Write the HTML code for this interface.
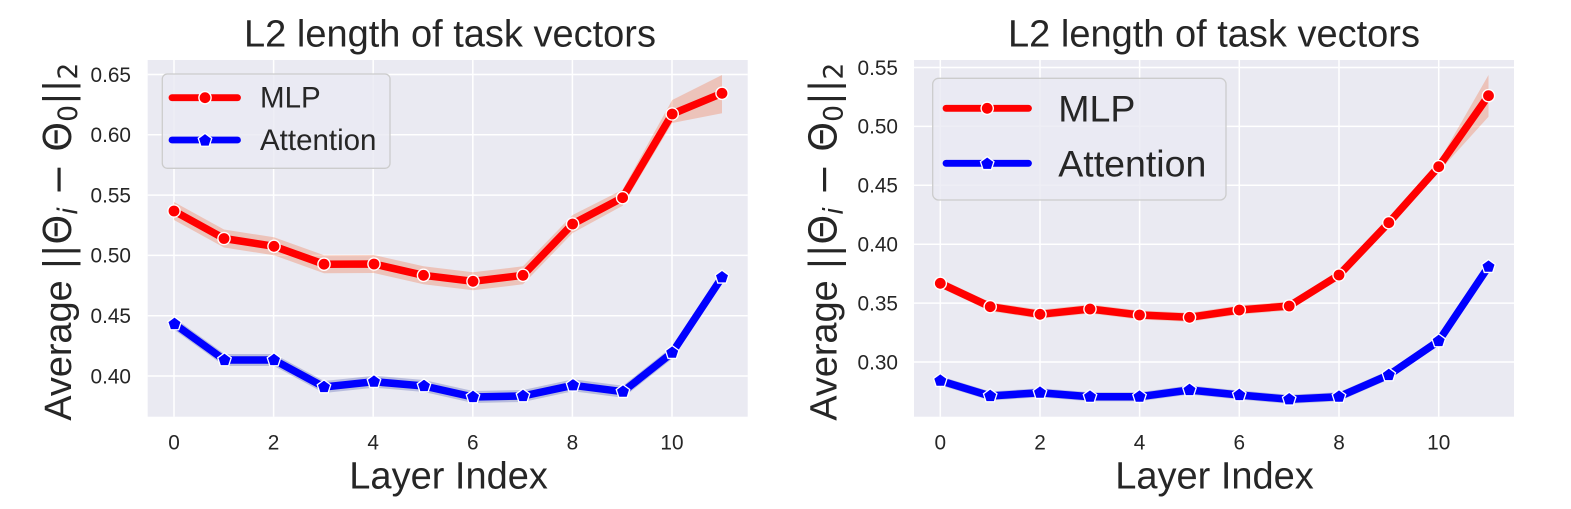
<!DOCTYPE html>
<html><head><meta charset="utf-8"><style>
html,body{margin:0;padding:0;background:#fff;}
svg{display:block;}
text{fill:#262626;font-family:"Liberation Sans",Arial,sans-serif;}
.tk{font-size:20.8px;}
.ttl{font-size:38px;}
.lab{font-size:38px;}
.m{font-family:"DejaVu Sans",sans-serif;}
</style></head><body>
<svg width="1571" height="509" viewBox="0 0 1571 509" xmlns="http://www.w3.org/2000/svg">
<defs>
<polygon id="pent" points="0,-7.1 6.75,-2.2 4.17,5.74 -4.17,5.74 -6.75,-2.2" fill="#0000ff" stroke="#ffffff" stroke-width="1.3" stroke-linejoin="miter"/>
<circle id="circ" r="6.1" fill="#ff0000" stroke="#ffffff" stroke-width="1.4"/>
</defs>
<rect width="1571" height="509" fill="#ffffff"/>

<!-- LEFT AXES -->
<rect x="147.7" y="60" width="600" height="356.7" fill="#eaeaf2"/>
<g stroke="#ffffff" stroke-width="1.5">
<line x1="174" y1="60" x2="174" y2="416.7"/>
<line x1="273.6" y1="60" x2="273.6" y2="416.7"/>
<line x1="373.2" y1="60" x2="373.2" y2="416.7"/>
<line x1="472.8" y1="60" x2="472.8" y2="416.7"/>
<line x1="572.4" y1="60" x2="572.4" y2="416.7"/>
<line x1="672" y1="60" x2="672" y2="416.7"/>
<line x1="147.7" y1="376" x2="747.7" y2="376"/>
<line x1="147.7" y1="315.7" x2="747.7" y2="315.7"/>
<line x1="147.7" y1="255.4" x2="747.7" y2="255.4"/>
<line x1="147.7" y1="195.1" x2="747.7" y2="195.1"/>
<line x1="147.7" y1="134.8" x2="747.7" y2="134.8"/>
<line x1="147.7" y1="74.5" x2="747.7" y2="74.5"/>
</g>
<polygon fill="rgba(241,107,55,0.3)" points="174,202 224,229.5 274,237.3 324,255.2 374,255 423.5,266.3 473,272.3 523,266.3 572.6,215 622.6,189.7 672.2,100 722,75 722,113.3 672.2,123 622.6,205.7 572.6,233 523,284.3 473,290.3 423.5,284.3 374,273 324,273.2 274,255.3 224,247.5 174,220"/>
<polygon fill="rgba(71,84,172,0.3)" points="174.5,318 224.5,354 274,354 324,381 374,375.7 424,380 473,391 523,390 573,379.3 623,385.7 672.2,346.7 722,271.3 722,283.3 672.2,358.7 623,397.7 573,391.3 523,402 473,403 424,392 374,387.7 324,393 274,366 224.5,366 174.5,330"/>
<polyline fill="none" stroke="#ff0000" stroke-width="7.5" stroke-linejoin="round" stroke-linecap="round" points="174,211 224,238.5 274,246.3 324,264.2 374,264 423.5,275.3 473,281.3 523,275.3 572.6,224 622.6,197.7 672.2,114 722,93.3"/>
<polyline fill="none" stroke="#0000ff" stroke-width="7.5" stroke-linejoin="round" stroke-linecap="round" points="174.5,324 224.5,360 274,360 324,387 374,381.7 424,386 473,397 523,396 573,385.3 623,391.7 672.2,352.7 722,277.3"/>
<g>
<use href="#circ" x="174" y="211"/><use href="#circ" x="224" y="238.5"/><use href="#circ" x="274" y="246.3"/><use href="#circ" x="324" y="264.2"/><use href="#circ" x="374" y="264"/><use href="#circ" x="423.5" y="275.3"/><use href="#circ" x="473" y="281.3"/><use href="#circ" x="523" y="275.3"/><use href="#circ" x="572.6" y="224"/><use href="#circ" x="622.6" y="197.7"/><use href="#circ" x="672.2" y="114"/><use href="#circ" x="722" y="93.3"/>
<use href="#pent" x="174.5" y="324"/><use href="#pent" x="224.5" y="360"/><use href="#pent" x="274" y="360"/><use href="#pent" x="324" y="387"/><use href="#pent" x="374" y="381.7"/><use href="#pent" x="424" y="386"/><use href="#pent" x="473" y="397"/><use href="#pent" x="523" y="396"/><use href="#pent" x="573" y="385.3"/><use href="#pent" x="623" y="391.7"/><use href="#pent" x="672.2" y="352.7"/><use href="#pent" x="722" y="277.3"/>
</g>
<!-- left legend -->
<rect x="162.3" y="74" width="227.7" height="94.3" rx="5" ry="5" fill="rgba(234,234,242,0.8)" stroke="#cccccc" stroke-width="1.3"/>
<line x1="172" y1="97.7" x2="237.5" y2="97.7" stroke="#ff0000" stroke-width="6.8" stroke-linecap="round"/>
<use href="#circ" x="205" y="97.7"/>
<line x1="172" y1="140" x2="237.5" y2="140" stroke="#0000ff" stroke-width="6.8" stroke-linecap="round"/>
<use href="#pent" x="205" y="140.5"/>
<text x="260" y="107.5" style="font-size:29.5px">MLP</text>
<text x="260" y="150" style="font-size:29.5px">Attention</text>
<!-- left ticks -->
<g class="tk" text-anchor="end">
<text x="131" y="383.3">0.40</text>
<text x="131" y="323">0.45</text>
<text x="131" y="262.7">0.50</text>
<text x="131" y="202.4">0.55</text>
<text x="131" y="142.1">0.60</text>
<text x="131" y="81.8">0.65</text>
</g>
<g class="tk" text-anchor="middle">
<text x="174" y="449.3">0</text>
<text x="273.6" y="449.3">2</text>
<text x="373.2" y="449.3">4</text>
<text x="472.8" y="449.3">6</text>
<text x="572.4" y="449.3">8</text>
<text x="672" y="449.3">10</text>
</g>
<text class="ttl" x="450" y="46.5" text-anchor="middle">L2 length of task vectors</text>
<text class="lab" x="448.6" y="488.3" text-anchor="middle">Layer Index</text>
<text class="lab" transform="translate(71,241.7) rotate(-90)" text-anchor="middle" textLength="358" lengthAdjust="spacing">Average <tspan class="m">||Θ</tspan><tspan class="m" font-style="italic" font-size="26.6" dy="6">i</tspan><tspan class="m" dy="-6"> − Θ</tspan><tspan class="m" font-size="26.6" dy="6">0</tspan><tspan class="m" dy="-6">||</tspan><tspan class="m" font-size="26.6" dy="6">2</tspan></text>

<!-- RIGHT AXES -->
<rect x="914" y="60" width="600" height="356.7" fill="#eaeaf2"/>
<g stroke="#ffffff" stroke-width="1.5">
<line x1="940.3" y1="60" x2="940.3" y2="416.7"/>
<line x1="1040" y1="60" x2="1040" y2="416.7"/>
<line x1="1139.6" y1="60" x2="1139.6" y2="416.7"/>
<line x1="1239.3" y1="60" x2="1239.3" y2="416.7"/>
<line x1="1339" y1="60" x2="1339" y2="416.7"/>
<line x1="1438.7" y1="60" x2="1438.7" y2="416.7"/>
<line x1="914" y1="362" x2="1514" y2="362"/>
<line x1="914" y1="303.1" x2="1514" y2="303.1"/>
<line x1="914" y1="244.2" x2="1514" y2="244.2"/>
<line x1="914" y1="185.3" x2="1514" y2="185.3"/>
<line x1="914" y1="126.4" x2="1514" y2="126.4"/>
<line x1="914" y1="67.5" x2="1514" y2="67.5"/>
</g>
<polygon fill="rgba(241,107,55,0.3)" points="940.3,278.8 990.2,302.2 1040,309.8 1090,304.5 1139.5,310.5 1189.5,312.8 1239.3,305.5 1289.2,301.5 1339,270.5 1388.8,218.2 1438.7,161.7 1488.5,75 1488.5,116.7 1438.7,171.7 1388.8,227.2 1339,279.5 1289.2,310.5 1239.3,314.5 1189.5,321.8 1139.5,319.5 1090,313.5 1040,318.8 990.2,311.2 940.3,287.8"/>
<polygon fill="rgba(71,84,172,0.3)" points="940.3,376.2 990.2,391.5 1040,388.2 1090,392.2 1139.5,392.2 1189.5,385.5 1239.3,390.5 1289.2,394.8 1339,392.2 1388.8,370.5 1438.7,336.5 1488.5,262.2 1488.5,271.2 1438.7,345.5 1388.8,379.5 1339,401.2 1289.2,403.8 1239.3,399.5 1189.5,394.5 1139.5,401.2 1090,401.2 1040,397.2 990.2,400.5 940.3,385.2"/>
<polyline fill="none" stroke="#ff0000" stroke-width="7.5" stroke-linejoin="round" stroke-linecap="round" points="940.3,283.3 990.2,306.7 1040,314.3 1090,309 1139.5,315 1189.5,317.3 1239.3,310 1289.2,306 1339,275 1388.8,222.7 1438.7,166.7 1488.5,95.7"/>
<polyline fill="none" stroke="#0000ff" stroke-width="7.5" stroke-linejoin="round" stroke-linecap="round" points="940.3,380.7 990.2,396 1040,392.7 1090,396.7 1139.5,396.7 1189.5,390 1239.3,395 1289.2,399.3 1339,396.7 1388.8,375 1438.7,341 1488.5,266.7"/>
<g>
<use href="#circ" x="940.3" y="283.3"/><use href="#circ" x="990.2" y="306.7"/><use href="#circ" x="1040" y="314.3"/><use href="#circ" x="1090" y="309"/><use href="#circ" x="1139.5" y="315"/><use href="#circ" x="1189.5" y="317.3"/><use href="#circ" x="1239.3" y="310"/><use href="#circ" x="1289.2" y="306"/><use href="#circ" x="1339" y="275"/><use href="#circ" x="1388.8" y="222.7"/><use href="#circ" x="1438.7" y="166.7"/><use href="#circ" x="1488.5" y="95.7"/>
<use href="#pent" x="940.3" y="380.7"/><use href="#pent" x="990.2" y="396"/><use href="#pent" x="1040" y="392.7"/><use href="#pent" x="1090" y="396.7"/><use href="#pent" x="1139.5" y="396.7"/><use href="#pent" x="1189.5" y="390"/><use href="#pent" x="1239.3" y="395"/><use href="#pent" x="1289.2" y="399.3"/><use href="#pent" x="1339" y="396.7"/><use href="#pent" x="1388.8" y="375"/><use href="#pent" x="1438.7" y="341"/><use href="#pent" x="1488.5" y="266.7"/>
</g>
<!-- right legend -->
<rect x="932.7" y="78.3" width="293.3" height="121.7" rx="6" ry="6" fill="rgba(234,234,242,0.8)" stroke="#cccccc" stroke-width="1.3"/>
<line x1="946" y1="108.3" x2="1028.5" y2="108.3" stroke="#ff0000" stroke-width="6.8" stroke-linecap="round"/>
<use href="#circ" x="987.2" y="108.3"/>
<line x1="946" y1="163.3" x2="1028.5" y2="163.3" stroke="#0000ff" stroke-width="6.8" stroke-linecap="round"/>
<use href="#pent" x="987.2" y="163.8"/>
<text x="1058.3" y="121.7" style="font-size:37.5px">MLP</text>
<text x="1058.3" y="176.7" style="font-size:37.5px">Attention</text>
<!-- right ticks -->
<g class="tk" text-anchor="end">
<text x="898" y="369.3">0.30</text>
<text x="898" y="310.4">0.35</text>
<text x="898" y="251.5">0.40</text>
<text x="898" y="192.6">0.45</text>
<text x="898" y="133.7">0.50</text>
<text x="898" y="74.8">0.55</text>
</g>
<g class="tk" text-anchor="middle">
<text x="940.3" y="449.3">0</text>
<text x="1040" y="449.3">2</text>
<text x="1139.6" y="449.3">4</text>
<text x="1239.3" y="449.3">6</text>
<text x="1339" y="449.3">8</text>
<text x="1438.7" y="449.3">10</text>
</g>
<text class="ttl" x="1214" y="46.5" text-anchor="middle">L2 length of task vectors</text>
<text class="lab" x="1214.5" y="488.3" text-anchor="middle">Layer Index</text>
<text class="lab" transform="translate(836.7,241.7) rotate(-90)" text-anchor="middle" textLength="358" lengthAdjust="spacing">Average <tspan class="m">||Θ</tspan><tspan class="m" font-style="italic" font-size="26.6" dy="6">i</tspan><tspan class="m" dy="-6"> − Θ</tspan><tspan class="m" font-size="26.6" dy="6">0</tspan><tspan class="m" dy="-6">||</tspan><tspan class="m" font-size="26.6" dy="6">2</tspan></text>
</svg>
</body></html>
